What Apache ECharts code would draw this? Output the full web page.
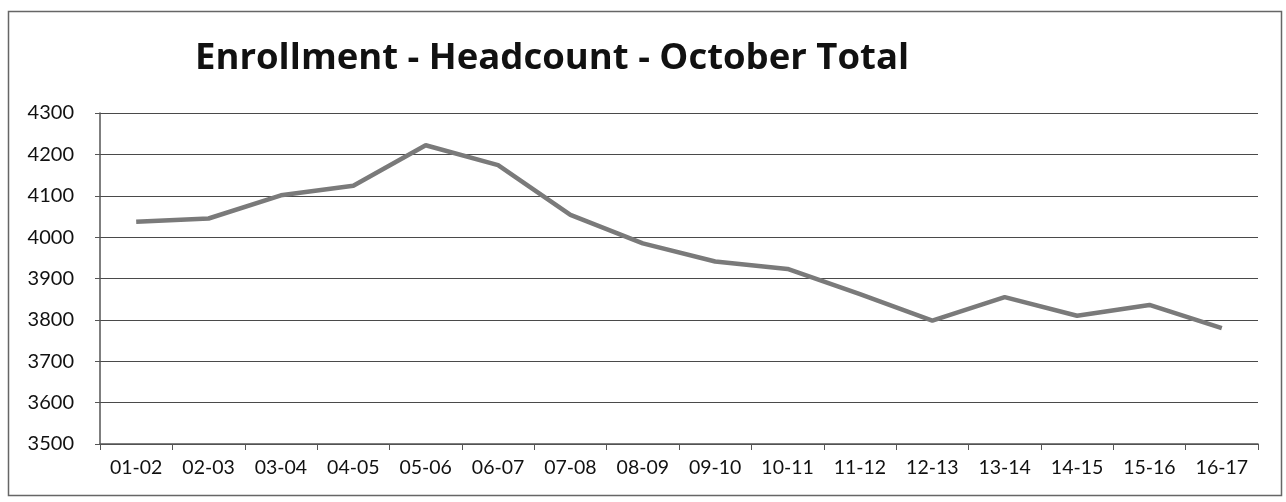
<!DOCTYPE html>
<html>
<head>
<meta charset="utf-8">
<script src="https://cdn.jsdelivr.net/npm/echarts@6/dist/echarts.min.js"></script>
<style>
html,body{margin:0;padding:0;background:#fff;}
#chart{width:1286px;height:502px;}
</style>
</head>
<body>
<div id="chart"></div>
<script>
const categories = ["01-02","02-03","03-04","04-05","05-06","06-07","07-08","08-09","09-10","10-11","11-12","12-13","13-14","14-15","15-16","16-17"];
const headcount = [4037, 4045, 4101, 4124, 4222, 4174, 4054, 3985, 3941, 3923, 3862, 3798, 3855, 3810, 3836, 3780];
const yTicks = [3500, 3600, 3700, 3800, 3900, 4000, 4100, 4200, 4300];
const titleText = "Enrollment - Headcount - October Total";

const chart = echarts.init(document.getElementById('chart'));
chart.setOption({
  backgroundColor: '#ffffff',
  animation: false,
  title: {
    text: titleText,
    left: 190, top: 35,
    textStyle: { fontFamily: 'Open Sans', fontWeight: 'bold', fontSize: 36.5, color: '#111' }
  },
  graphic: [{
    type: 'rect', shape: { x: 8.5, y: 11.5, width: 1273, height: 484 },
    style: { fill: 'none', stroke: '#666', lineWidth: 1.5 }, silent: true
  }],
  grid: { left: 100, right: 28, top: 113, bottom: 58 },
  xAxis: {
    type: 'category', data: categories, boundaryGap: true,
    axisLine: { show: true, lineStyle: { color: '#555', width: 1.5 } },
    axisTick: { show: true, inside: false, length: 6, alignWithLabel: false, lineStyle: { color: '#555' } },
    axisLabel: { color: '#111', fontFamily: 'Lato', fontSize: 19.5, margin: 14 },
    splitLine: { show: false }
  },
  yAxis: {
    type: 'value', min: yTicks[0], max: yTicks[yTicks.length - 1], interval: 100,
    axisLine: { show: true, lineStyle: { color: '#555', width: 1.5 } },
    axisTick: { show: true, length: 5, lineStyle: { color: '#555' } },
    axisLabel: { color: '#111', fontFamily: 'Lato', fontSize: 20, margin: 26, formatter: v => String(v) },
    splitLine: { show: true, lineStyle: { color: '#4a4a4a', width: 1.2 } }
  },
  series: [{
    type: 'line', data: headcount, symbol: 'none',
    lineStyle: { color: '#7a7a7a', width: 4.5 }
  }]
});
</script>
</body>
</html>
